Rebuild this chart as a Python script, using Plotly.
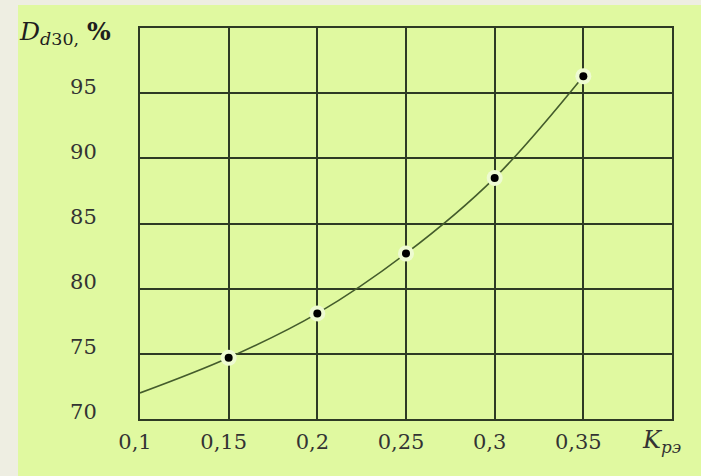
import plotly.graph_objects as go

# Measured points: relative coefficient K_pэ vs D_d30, %
k_points = [0.15, 0.20, 0.25, 0.30, 0.35]
d_points = [74.7, 78.1, 82.7, 88.5, 96.3]

# Curve start at the left edge of the axis
k_start = 0.10
d_start = 72.0

x_ticks = [0.10, 0.15, 0.20, 0.25, 0.30, 0.35]
x_labels = ["0,1", "0,15", "0,2", "0,25", "0,3", "0,35"]
y_ticks = [70, 75, 80, 85, 90, 95]
y_labels = ["70", "75", "80", "85", "90", "95"]

GREEN = "#e0f9a0"
HALO = "#eefbd2"
OUTER = "#eeeee2"
INK = "#2e3a24"
CURVE = "#445c2c"
FONT = dict(family="DejaVu Serif", size=21, color="#333333")

fig = go.Figure()

# smooth curve through the points
fig.add_trace(go.Scatter(
    x=[k_start] + k_points,
    y=[d_start] + d_points,
    mode="lines",
    line=dict(color=CURVE, width=1.6, shape="spline", smoothing=1.0),
    hoverinfo="skip",
))

# light halo that breaks the lines around each point
fig.add_trace(go.Scatter(
    x=k_points,
    y=d_points,
    mode="markers",
    marker=dict(size=16, color=HALO, line=dict(width=0)),
    hoverinfo="skip",
))

# the points themselves
fig.add_trace(go.Scatter(
    x=k_points,
    y=d_points,
    mode="markers",
    marker=dict(size=8, color="#000000", line=dict(width=0)),
))

fig.update_layout(
    width=701,
    height=476,
    margin=dict(l=140, r=29, t=28, b=57),
    paper_bgcolor=OUTER,
    plot_bgcolor=GREEN,
    showlegend=False,
    font=FONT,
    shapes=[
        dict(type="rect", xref="paper", yref="paper",
             x0=-0.2293, x1=1.2, y0=-0.3, y1=1.0588,
             fillcolor=GREEN, line=dict(width=0), layer="below"),
    ],
    annotations=[
        dict(xref="paper", yref="paper", x=-0.231, y=1.033,
             xanchor="left", yanchor="top",
             text="<i>D</i><sub><i>d</i>30,</sub> <b>%</b>",
             showarrow=False,
             font=dict(family="DejaVu Serif", size=25, color="#1e1e1e")),
        dict(xref="paper", yref="paper", x=0.94, y=-0.012,
             xanchor="left", yanchor="top",
             text="<i>K</i><sub><i>рэ</i></sub>",
             showarrow=False,
             font=dict(family="DejaVu Serif", size=24, color="#333333")),
    ],
)

fig.update_xaxes(
    range=[0.10, 0.40],
    tickvals=x_ticks,
    ticktext=x_labels,
    showgrid=True,
    gridcolor=INK,
    gridwidth=1.6,
    showline=True,
    linecolor=INK,
    linewidth=2,
    mirror=True,
    zeroline=False,
    ticks="",
    ticklabelstandoff=3,
    ticklabelshift=-5,
    tickfont=FONT,
)

fig.update_yaxes(
    range=[70, 100],
    tickvals=y_ticks,
    ticktext=y_labels,
    showgrid=True,
    gridcolor=INK,
    gridwidth=1.6,
    showline=True,
    linecolor=INK,
    linewidth=2,
    mirror=True,
    zeroline=False,
    ticks="",
    ticklabelstandoff=37,
    ticklabelshift=-7,
    tickfont=FONT,
)

fig.write_html("out.html")
